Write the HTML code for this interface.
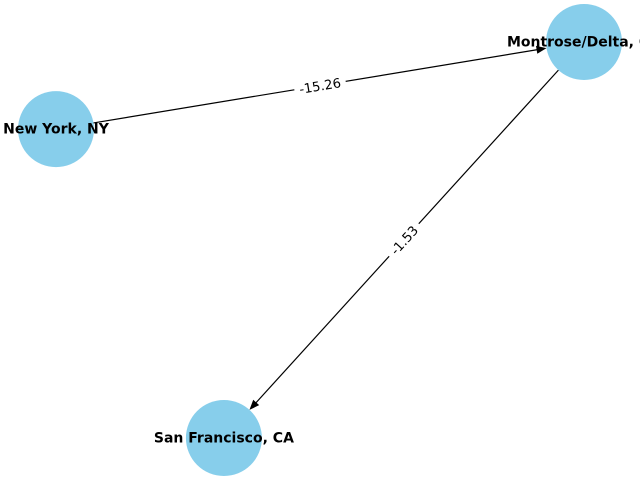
<!DOCTYPE html>
<html><head><meta charset="utf-8"><style>
html,body{margin:0;padding:0;background:#fff;}
svg{display:block;font-family:"DejaVu Sans","Liberation Sans",sans-serif;}
</style></head><body>
<svg id="chart" width="640" height="480" viewBox="0 0 640 480"></svg>
<script>
const nodeNames = ["New York, NY", "Montrose/Delta, CO", "San Francisco, CA"];
const nodeX = [0.0, 1.0, 0.318];
const nodeY = [0.78, 1.0, 0.0];
const edgeFrom = [0, 1];
const edgeTo = [1, 2];
const edgeWeights = [-15.26, -1.53];

const svg = document.getElementById('chart');
const NS = 'http://www.w3.org/2000/svg';
const sx = v => 56 + v * (584 - 56);
const sy = v => 438 - v * (438 - 42);
const R = 38;

function mk(tag, attrs) {
  const e = document.createElementNS(NS, tag);
  for (const k in attrs) e.setAttribute(k, attrs[k]);
  return e;
}

const edgesG = mk('g', {});


svg.appendChild(edgesG);
const nodesG = mk('g', {});


svg.appendChild(nodesG);
const labelsG = mk('g', {});


svg.appendChild(labelsG);

edgeFrom.forEach((f, i) => {
  const t = edgeTo[i];
  const x1 = sx(nodeX[f]), y1 = sy(nodeY[f]), x2 = sx(nodeX[t]), y2 = sy(nodeY[t]);
  const dx = x2 - x1, dy = y2 - y1, L = Math.hypot(dx, dy), ux = dx / L, uy = dy / L;
  const ax = x1 + ux * R, ay = y1 + uy * R, bx = x2 - ux * R, by = y2 - uy * R;
  const line = mk('line', {x1: ax, y1: ay, x2: bx - ux * 9, y2: by - uy * 9, stroke: '#000', 'stroke-width': 1.2});
  
  
  edgesG.appendChild(line);
  const px = -uy, py = ux;
  const hx = bx - ux * 10, hy = by - uy * 10;
  const head = mk('polygon', {points: `${bx},${by} ${hx + px * 4},${hy + py * 4} ${hx - px * 4},${hy - py * 4}`, fill: '#000'});
  
  
  edgesG.appendChild(head);
  let ang = Math.atan2(dy, dx) * 180 / Math.PI;
  if (ang > 90) ang -= 180; if (ang < -90) ang += 180;
  const mx = (x1 + x2) / 2, my = (y1 + y2) / 2;
  const g = mk('g', {transform: `translate(${mx},${my}) rotate(${ang})`});
  
  
  const txt = edgeWeights[i].toFixed(2);
  const w = txt.length * 8 + 4;
  g.appendChild(mk('rect', {x: -w / 2, y: -9, width: w, height: 18, fill: '#fff'}));
  const te = mk('text', {x: 0, y: 5, 'text-anchor': 'middle', 'font-size': 13, fill: '#000'});
  te.textContent = txt;
  g.appendChild(te);
  labelsG.appendChild(g);
});

nodeNames.forEach((n, i) => {
  const cx = sx(nodeX[i]), cy = sy(nodeY[i]);
  const c = mk('circle', {cx, cy, r: R, fill: '#87ceeb'});
  
  
  nodesG.appendChild(c);
  const t = mk('text', {x: cx, y: cy + 4.5, 'text-anchor': 'middle', 'font-size': 14, 'font-weight': 'bold', fill: '#000'});
  
  
  t.textContent = n;
  nodesG.appendChild(t);
});
</script>
</body></html>
